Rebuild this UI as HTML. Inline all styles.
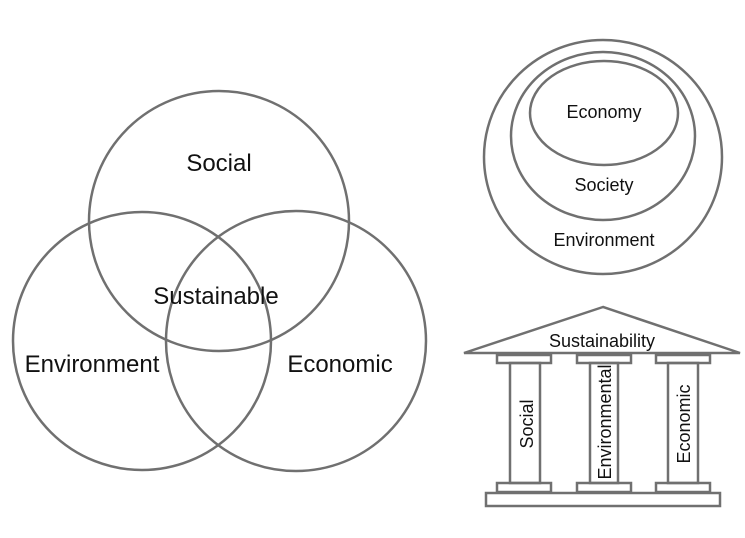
<!DOCTYPE html>
<html><head><meta charset="utf-8"><style>
html,body{margin:0;padding:0;background:#fff;}
svg{display:block;}
text{font-family:"Liberation Sans",sans-serif;fill:#111;}
</style></head><body>
<svg width="745" height="538" viewBox="0 0 745 538" xmlns="http://www.w3.org/2000/svg">
<g fill="none" stroke="#707070" stroke-width="2.5">
<circle cx="219" cy="221" r="130"/>
<circle cx="142" cy="341" r="129"/>
<circle cx="296" cy="341" r="130"/>
<ellipse cx="603" cy="157" rx="119" ry="117"/>
<ellipse cx="603" cy="136" rx="92" ry="84"/>
<ellipse cx="604" cy="113" rx="74" ry="52"/>
<polygon points="603,307 464,353 740,353" stroke-linejoin="miter"/>
<rect x="497" y="355" width="54" height="8"/>
<rect x="577" y="355" width="54" height="8"/>
<rect x="656" y="355" width="54" height="8"/>
<rect x="510" y="363" width="30" height="120"/>
<rect x="590" y="363" width="28" height="120"/>
<rect x="668" y="363" width="30" height="120"/>
<rect x="497" y="483" width="54" height="9"/>
<rect x="577" y="483" width="54" height="9"/>
<rect x="656" y="483" width="54" height="9"/>
<rect x="486" y="493" width="234" height="13"/>
</g>
<g font-size="24" text-anchor="middle">
<text x="219" y="171">Social</text>
<text x="216" y="304">Sustainable</text>
<text x="92" y="372">Environment</text>
<text x="340" y="372">Economic</text>
</g>
<g font-size="18" text-anchor="middle">
<text x="604" y="118">Economy</text>
<text x="604" y="191">Society</text>
<text x="604" y="246">Environment</text>
<text x="602" y="347">Sustainability</text>
<text transform="translate(533,424) rotate(-90)">Social</text>
<text transform="translate(611,422) rotate(-90)">Environmental</text>
<text transform="translate(690,424) rotate(-90)">Economic</text>
</g>
</svg>
</body></html>
